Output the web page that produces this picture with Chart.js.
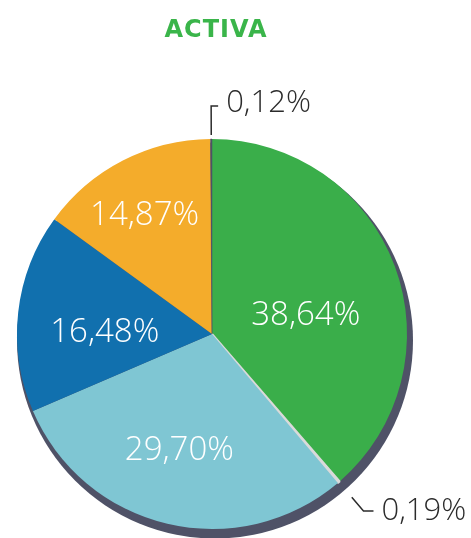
<!DOCTYPE html>
<html>
<head>
<meta charset="utf-8">
<script src="https://cdn.jsdelivr.net/npm/chart.js@4/dist/chart.umd.min.js"></script>
<style>
    html, body { margin: 0; padding: 0; background: #ffffff; }
    #wrap { width: 471px; height: 538px; position: relative; }
</style>
</head>
<body>
<div id="wrap"><canvas id="chart-activa"></canvas></div>
<script>
// Datos del gráfico (porcentajes, en sentido horario desde arriba)
const chartTitle = 'ACTIVA';
const categories = ['Segmento 1', 'Segmento 2', 'Segmento 3', 'Segmento 4', 'Segmento 5', 'Segmento 6'];
const values = [38.64, 0.19, 29.70, 16.48, 14.87, 0.12];
const sliceColors = ['#3aae4a', '#dadada', '#7fc6d3', '#1170ae', '#f4ac2b', '#4f5267'];

const INNER_FONT = '300 33px "Open Sans", "DejaVu Sans", sans-serif';
const OUTER_FONT = '300 31px "Open Sans", "DejaVu Sans", sans-serif';

function formatPct(v) {
    return v.toFixed(2).replace('.', ',') + '%';
}

// sombra gris oscura detras de la torta
const shadowPlugin = {
    id: 'pieShadow',
    beforeDatasetsDraw(chart) {
        const arc = chart.getDatasetMeta(0).data[0];
        if (!arc) return;
        const { x, y, outerRadius } = arc.getProps(['x', 'y', 'outerRadius'], true);
        const ctx = chart.ctx;
        ctx.save();
        ctx.fillStyle = '#4f5267';
        ctx.beginPath();
        ctx.arc(x + 3, y + 6.5, outerRadius + 3, 0, Math.PI * 2);
        ctx.fill();
        ctx.restore();
    }
};

// titulo con espaciado entre letras (el titulo de Chart.js no lo permite)
const titlePlugin = {
    id: 'spacedTitle',
    afterDraw(chart, args, opts) {
        const ctx = chart.ctx;
        ctx.save();
        ctx.font = 'bold 24px "DejaVu Sans", sans-serif';
        ctx.letterSpacing = '1px';
        ctx.fillStyle = '#3ab54a';
        ctx.textAlign = 'center';
        ctx.textBaseline = 'middle';
        ctx.fillText(opts.text, opts.x, opts.y);
        ctx.restore();
    }
};

// etiquetas: dentro de la porcion, o afuera con linea guia para las pequeñas
const labelPlugin = {
    id: 'sliceLabels',
    afterDatasetsDraw(chart, args, opts) {
        const ctx = chart.ctx;
        const meta = chart.getDatasetMeta(0);
        ctx.save();
        ctx.textBaseline = 'middle';
        meta.data.forEach((arc, i) => {
            const p = arc.getProps(['x', 'y', 'startAngle', 'endAngle', 'outerRadius'], true);
            const mid = (p.startAngle + p.endAngle) / 2;
            const text = formatPct(values[i]);
            const outer = opts.outside[i];
            if (outer) {
                const cos = Math.cos(mid), sin = Math.sin(mid);
                const r0 = p.outerRadius + outer.start;
                const r1 = p.outerRadius + outer.elbow;
                const ex = p.x + cos * r1, ey = p.y + sin * r1;
                ctx.strokeStyle = '#2b2b2b';
                ctx.lineWidth = 1.5;
                ctx.beginPath();
                ctx.moveTo(p.x + cos * r0, p.y + sin * r0);
                ctx.lineTo(ex, ey);
                ctx.lineTo(ex + outer.tail, ey);
                ctx.stroke();
                ctx.font = OUTER_FONT;
                ctx.fillStyle = '#2b2b2b';
                ctx.textAlign = 'left';
                ctx.fillText(text, ex + outer.tail + 8, ey - outer.lift);
            } else {
                const inner = opts.inside[i] || { frac: 0.55, turn: 0 };
                const a = mid + inner.turn * Math.PI / 180;
                const r = p.outerRadius * inner.frac;
                ctx.font = INNER_FONT;
                ctx.fillStyle = '#ffffff';
                ctx.textAlign = 'center';
                ctx.fillText(text, p.x + Math.cos(a) * r, p.y + Math.sin(a) * r);
            }
        });
        ctx.restore();
    }
};

new Chart(document.getElementById('chart-activa'), {
    type: 'pie',
    data: {
        labels: categories,
        datasets: [{
            data: values,
            backgroundColor: sliceColors,
            borderColor: sliceColors,
            borderWidth: [0, 2, 0, 0, 0, 0.5],
            hoverOffset: 0
        }]
    },
    options: {
        responsive: true,
        maintainAspectRatio: false,
        animation: false,
        events: [],
        layout: { padding: { left: 16, right: 63, top: 138, bottom: 8 } },
        plugins: {
            legend: { display: false },
            tooltip: { enabled: false },
            title: { display: false },
            spacedTitle: { text: chartTitle, x: 216, y: 31 },
            sliceLabels: {
                inside: {
                    0: { frac: 0.49, turn: 9.5 },
                    2: { frac: 0.62, turn: 2.4 },
                    3: { frac: 0.55, turn: -5.5 },
                    4: { frac: 0.70, turn: -2.4 }
                },
                outside: {
                    1: { start: 20, elbow: 38, tail: 10, lift: 0 },
                    5: { start: 4, elbow: 33, tail: 7, lift: 3 }
                }
            }
        }
    },
    plugins: [shadowPlugin, labelPlugin, titlePlugin]
});
</script>
</body>
</html>
